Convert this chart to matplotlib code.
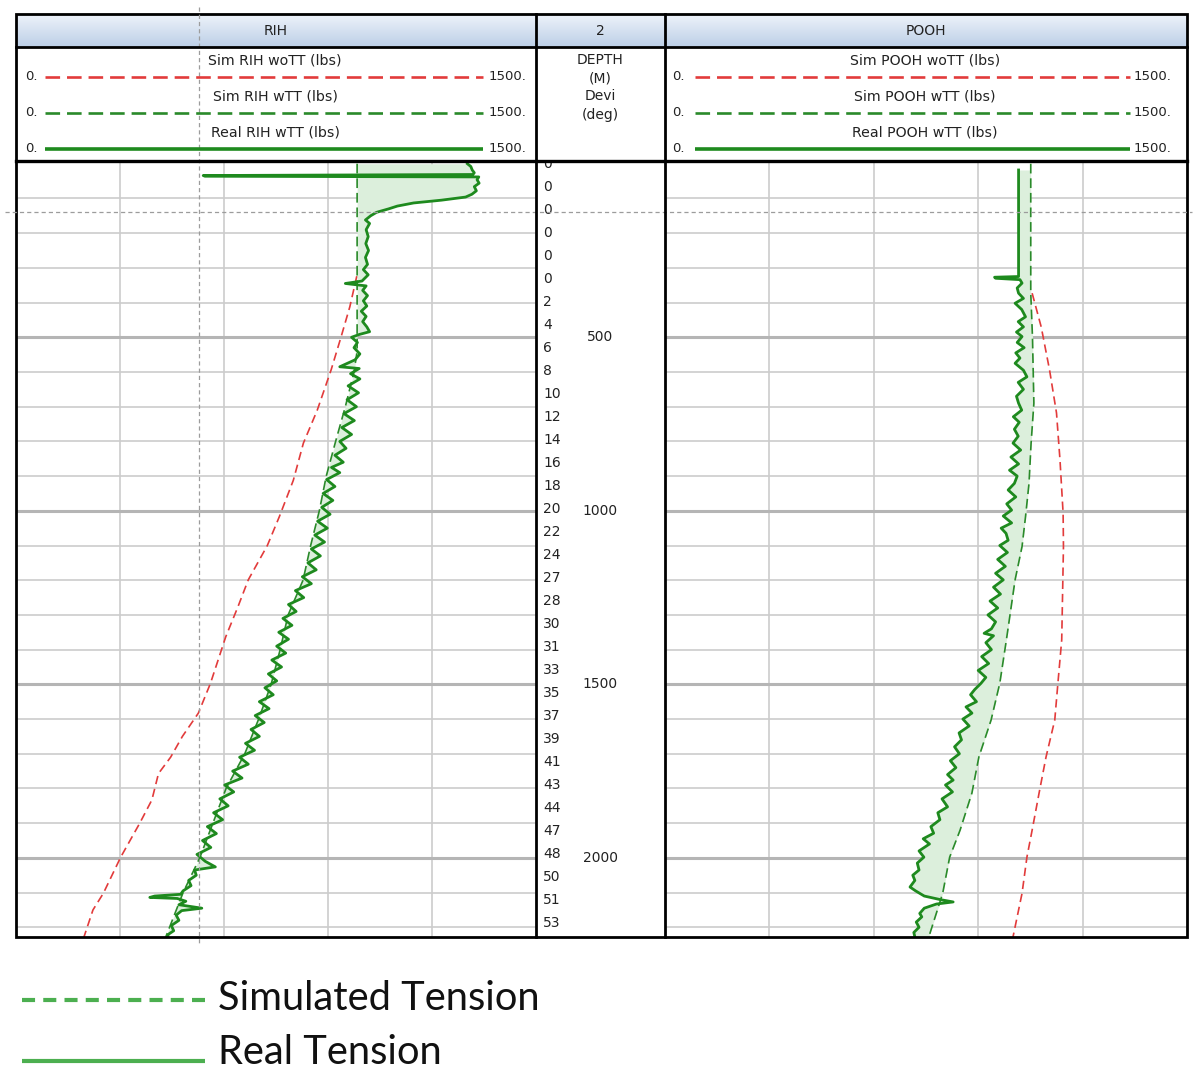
import numpy as np
import matplotlib
matplotlib.use('Agg')
import matplotlib.pyplot as plt
from matplotlib.patches import Rectangle
from matplotlib.colors import LinearSegmentedColormap

plt.rcParams['lines.scale_dashes'] = False
plt.rcParams['font.family'] = ['DejaVu Sans']

# ---------------- DATA ----------------
# RIH real tension (depth m, lbs)
rih_real_depth = [0, 8, 18, 26, 31, 34, 36, 38, 46, 56, 66, 78, 88, 96, 105, 113, 122, 130, 140, 150, 162,
                  172, 190, 210, 230, 250, 270, 290, 305, 320, 338, 345, 352, 365, 380, 395, 410, 425, 440,
                  455, 470, 484, 492, 500, 515, 530, 548, 565, 585, 590, 605, 620, 640, 660, 680, 700, 720,
                  740, 760, 780, 800, 820, 840, 860, 875, 890, 910, 930, 950, 970, 990, 1010, 1030, 1050,
                  1070, 1090, 1110, 1130, 1150, 1170, 1190, 1210, 1230, 1250, 1270, 1290, 1310, 1330, 1350,
                  1370, 1390, 1410, 1430, 1450, 1470, 1490, 1510, 1530, 1550, 1570, 1590, 1610, 1630, 1650,
                  1670, 1690, 1710, 1730, 1750, 1770, 1790, 1810, 1830, 1850, 1870, 1890, 1910, 1930, 1950,
                  1970, 1990, 2010, 2026, 2035, 2050, 2065, 2080, 2095, 2105, 2110, 2114, 2117, 2125, 2135,
                  2145, 2152, 2165, 2180, 2195, 2210, 2220, 2228]
rih_real_lbs = [1302, 1312, 1316, 1322, 1318, 540, 545, 1335, 1330, 1336, 1322, 1328, 1315, 1297, 1227, 1147,
                1100, 1075, 1040, 1023, 1008,
                1020, 1010, 1016, 1009, 1017, 1008, 1014, 1002, 1016, 998, 950, 1010, 1000, 1014, 1002, 1012,
                996, 1010, 1000, 1012, 1020, 990, 968, 985, 975, 992, 978, 934, 990, 965, 992, 958, 988, 955,
                982, 946, 976, 940, 968, 934, 952, 920, 944, 910, 934, 896, 920, 886, 914, 882, 906, 870, 898,
                862, 890, 852, 878, 842, 866, 826, 852, 806, 830, 786, 808, 770, 796, 758, 786, 752, 778, 738,
                766, 728, 752, 718, 742, 702, 730, 690, 716, 678, 702, 662, 688, 645, 670, 625, 652, 602, 628,
                588, 612, 570, 596, 552, 578, 538, 562, 522, 546, 575, 515, 520, 498, 505, 482, 475, 400, 386,
                465, 490, 470, 536, 478, 462, 470, 448, 455, 440, 436]

# RIH simulated with torque-tube model
rih_sim_depth = [0, 540, 600, 700, 800, 900, 1000, 1100, 1200, 1300, 1400, 1500, 1600, 1700, 1800, 1900,
                 2000, 2100, 2228]
rih_sim_lbs = [984, 984, 975, 950, 922, 895, 875, 850, 828, 785, 762, 736, 700, 660, 606, 568, 530, 482, 432]

# RIH simulated without torque-tube model
rih_wo_depth = [324, 412, 498, 594, 710, 805, 912, 1016, 1100, 1199, 1277, 1363, 1497, 1583, 1650, 1710,
                1757, 1833, 1900, 1998, 2102, 2150, 2228]
rih_wo_lbs = [983, 963, 938, 909, 869, 829, 800, 760, 725, 670, 640, 605, 561, 526, 480, 446, 411, 392, 357,
              302, 252, 222, 196]

# POOH real tension
pooh_real_depth = [18, 325, 327, 330, 334, 344, 358, 373, 388, 402, 420, 441, 455, 470, 485, 498, 515, 530,
                   545, 560, 575, 595, 614, 630, 650, 670, 690, 710, 729, 745, 765, 785, 805, 825, 845, 865,
                   883, 900, 921, 940, 960, 980, 998, 1015, 1035, 1050, 1065, 1085, 1100, 1120, 1140, 1160,
                   1180, 1199, 1220, 1240, 1260, 1280, 1300, 1320, 1340, 1353, 1360, 1380, 1400, 1420, 1440,
                   1460, 1480, 1497, 1515, 1530, 1550, 1565, 1583, 1600, 1620, 1640, 1660, 1680, 1700, 1720,
                   1740, 1760, 1776, 1790, 1810, 1830, 1853, 1870, 1890, 1910, 1929, 1945, 1960, 1980, 1998,
                   2015, 2035, 2050, 2065, 2084, 2095, 2110, 2120, 2127, 2133, 2145, 2160, 2170, 2185, 2200,
                   2215, 2228]
pooh_real_lbs = [1016, 1016, 947, 950, 1020, 1026, 1012, 1016, 1030, 1006, 1025, 1036, 1015, 1030, 1010,
                 1026, 1012, 1032, 1008, 1020, 1006, 1030, 1040, 1015, 1030, 1010, 1016, 1025, 1001, 1018,
                 1004, 1015, 1000, 1022, 994, 1016, 990, 1012, 1004, 986, 1008, 982, 996, 972, 996, 966, 980,
                 986, 962, 984, 956, 978, 950, 972, 944, 964, 934, 956, 928, 950, 938, 917, 944, 922, 938,
                 910, 930, 900, 922, 908, 890, 878, 895, 865, 882, 856, 874, 845, 852, 832, 846, 820, 836,
                 812, 828, 806, 826, 796, 812, 784, 790, 764, 772, 742, 760, 730, 744, 725, 730, 712, 718,
                 704, 720, 745, 790, 828, 780, 745, 732, 738, 722, 730, 715, 718]

# POOH simulated with torque-tube model
pooh_sim_depth = [0, 372, 500, 690, 805, 921, 1017, 1103, 1199, 1372, 1497, 1603, 1709, 1813, 1920, 1998,
                  2102, 2228]
pooh_sim_lbs = [1051, 1051, 1056, 1060, 1052, 1046, 1036, 1026, 1006, 981, 962, 937, 902, 882, 848, 818,
                798, 758]

# POOH simulated without torque-tube model
pooh_wo_depth = [373, 470, 594, 718, 853, 1007, 1103, 1372, 1497, 1603, 1709, 1813, 1920, 1998, 2102, 2228]
pooh_wo_lbs = [1055, 1081, 1105, 1125, 1135, 1144, 1145, 1140, 1129, 1120, 1095, 1075, 1055, 1040, 1026, 1000]

# Deviation labels (deg) shown in depth track
devi_labels = [0, 0, 0, 0, 0, 0, 2, 4, 6, 8, 10, 12, 14, 16, 18, 20, 22, 24, 27, 28, 30, 31, 33, 35, 37, 39,
               41, 43, 44, 47, 48, 50, 51, 53]
devi_step_m = 66.3
depth_labels = [500, 1000, 1500, 2000]

track_titles = ['RIH', '2', 'POOH']
rih_curve_names = ['Sim RIH woTT (lbs)', 'Sim RIH wTT (lbs)', 'Real RIH wTT (lbs)']
pooh_curve_names = ['Sim POOH woTT (lbs)', 'Sim POOH wTT (lbs)', 'Real POOH wTT (lbs)']
depth_header = ['DEPTH', '(M)', 'Devi', '(deg)']
scale_min, scale_max = 0, 1500
legend_labels = ['Simulated Tension', 'Real Tension']

# ---------------- STYLE ----------------
W, H = 1200, 1075
fig = plt.figure(figsize=(12, 10.75), dpi=100)

RED = '#e23b3b'
SIMG = '#2a8a2a'
REALG = '#1e8a1e'
FILL = '#dcefdc'
GRID = '#cccccc'
TXT = '#222222'

TOP, BOT = 162, 937
DMIN, DMAX = -5, 2228


def fax(x0, y0, x1, y1):
    return fig.add_axes([x0 / W, 1 - y1 / H, (x1 - x0) / W, (y1 - y0) / H])


axL = fax(16, TOP, 536, BOT)
axD = fax(536, TOP, 665, BOT)
axR = fax(665, TOP, 1187, BOT)

minor_d = [d for d in range(100, 2201, 100) if d % 500]
major_d = [500, 1000, 1500, 2000]
grid_lbs = [300, 600, 900, 1200]

for ax in (axL, axR):
    ax.set_xlim(scale_min, scale_max)
    ax.set_ylim(DMAX, DMIN)
    ax.axis('off')
    ax.vlines(grid_lbs, DMIN, DMAX, color=GRID, lw=1.2, zorder=0)
    ax.hlines(minor_d, scale_min, scale_max, color=GRID, lw=1.2, zorder=0)
    ax.hlines(major_d, scale_min, scale_max, color='#b5b5b5', lw=2.2, zorder=0)


def draw_track(ax, rd, rv, sd, sv, wd, wv):
    rd = np.asarray(rd, float)
    rv = np.asarray(rv, float)
    s_on_r = np.interp(rd, sd, sv)
    ax.fill_betweenx(rd, rv, s_on_r, color=FILL, lw=0, zorder=1)
    ax.plot(wv, wd, color=RED, lw=1.2, dashes=(6, 3.5), zorder=2)
    ax.plot(sv, sd, color=SIMG, lw=1.2, dashes=(7, 3.5), zorder=2)
    ax.plot(rv, rd, color=REALG, lw=2.0, zorder=3, solid_joinstyle='round')


draw_track(axL, rih_real_depth, rih_real_lbs, rih_sim_depth, rih_sim_lbs, rih_wo_depth, rih_wo_lbs)
draw_track(axR, pooh_real_depth, pooh_real_lbs, pooh_sim_depth, pooh_sim_lbs, pooh_wo_depth, pooh_wo_lbs)

# depth track
axD.set_xlim(0, 1)
axD.set_ylim(DMAX, DMIN)
axD.axis('off')
ytr = axD.get_yaxis_transform()
for i, lab in enumerate(devi_labels):
    axD.text(7 / 129, i * devi_step_m, str(lab), transform=ytr, ha='left', va='center',
             fontsize=10, color=TXT, clip_on=True)
for d in depth_labels:
    axD.text(64.5 / 129, d, str(d), transform=ytr, ha='center', va='center', fontsize=10, color=TXT)

# ---------------- OVERLAY (header, borders, cursor, legend) ----------------
ov = fig.add_axes([0, 0, 1, 1], zorder=5)
ov.patch.set_alpha(0)
cmap = LinearSegmentedColormap.from_list('hdr', ['#eef3fa', '#bccfe7'])
ov.imshow(np.linspace(0, 1, 64).reshape(-1, 1), extent=[16, 1187, 47, 14], cmap=cmap,
          aspect='auto', origin='upper', zorder=0)
ov.set_xlim(0, W)
ov.set_ylim(H, 0)
ov.axis('off')

# titles
for xc, t in zip([276, 600.5, 926], track_titles):
    ov.text(xc, 31, t, ha='center', va='center', fontsize=10, color=TXT)

# curve headers
hdr_rows = [(60, 77), (96, 113), (132, 149)]
styles = [dict(color=RED, lw=1.9, dashes=(10.5, 5)),
          dict(color=SIMG, lw=1.9, dashes=(10.5, 5)),
          dict(color=REALG, lw=2.6)]
for (x0, x1, xz, xm, xc), names in [((45, 483, 25, 489, 275), rih_curve_names),
                                    ((695, 1130, 672, 1134, 925), pooh_curve_names)]:
    for (ty, ly), nm, st in zip(hdr_rows, names, styles):
        ov.text(xc, ty, nm, ha='center', va='center', fontsize=10.2, color=TXT)
        ov.plot([x0, x1], [ly, ly], solid_capstyle='butt', **st)
        ov.text(xz, ly, '%d.' % scale_min, ha='left', va='center', fontsize=9.5, color=TXT)
        ov.text(xm, ly, '%d.' % scale_max, ha='left', va='center', fontsize=9.5, color=TXT)

for y, t in zip([60, 78, 96, 115], depth_header):
    ov.text(600.5, y, t, ha='center', va='center', fontsize=10, color=TXT)

# borders
bl = dict(color='black', lw=2.0, solid_capstyle='projecting')
ov.add_patch(Rectangle((16, 14), 1171, 923, fill=False, lw=2.0, ec='black'))
ov.plot([536, 536], [14, 937], **bl)
ov.plot([665, 665], [14, 937], **bl)
ov.plot([16, 1187], [47, 47], **bl)
ov.plot([16, 1187], [161, 161], color='black', lw=2.4)

# cursor crosshair
ov.plot([198.5, 198.5], [7, 945], color='#9c9c9c', lw=0.9, dashes=(3, 2.2), zorder=1)
ov.plot([5, 1192], [211.5, 211.5], color='#9c9c9c', lw=0.9, dashes=(3, 2.2), zorder=1)

# bottom legend
LG = '#4caf50'
ov.plot([22, 205], [1000, 1000], color=LG, lw=3.0, dashes=(9.4, 5.9), solid_capstyle='butt')
ov.plot([22, 205], [1061, 1061], color=LG, lw=3.0, solid_capstyle='butt')
t1 = ov.text(218, 999, legend_labels[0], ha='left', va='center', fontsize=28, family='Lato', color='#111111')
t2 = ov.text(218, 1053, legend_labels[1], ha='left', va='center', fontsize=28, family='Lato', color='#111111')
fig.canvas.draw()
r = fig.canvas.get_renderer()
w1 = t1.get_window_extent(r).width
fs = 28 * 322.0 / w1
t1.set_fontsize(fs)
t2.set_fontsize(fs)

fig.savefig('out.png', dpi=100)
